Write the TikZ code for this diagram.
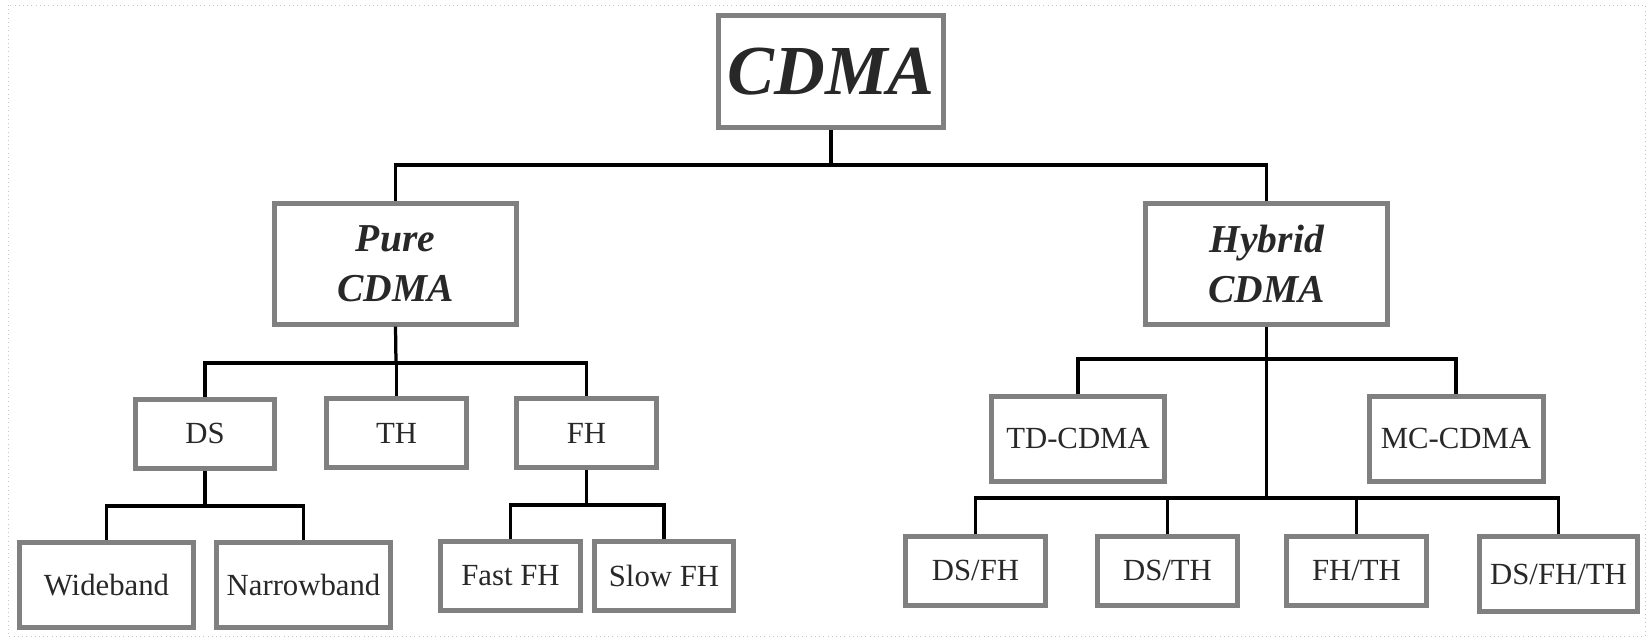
\documentclass[tikz,border=0pt]{standalone}
\usepackage{tikz}
\usepackage{fontspec}
\setmainfont{Liberation Serif}
\usetikzlibrary{positioning,calc}
\definecolor{boxgray}{RGB}{128,128,128}
\definecolor{txtgray}{RGB}{40,40,40}

\begin{document}
\begin{tikzpicture}[
    x=0.02cm, y=-0.02cm,
    box/.style={rectangle, draw=boxgray, line width=0.1cm, fill=white, inner sep=0pt, align=center, text=txtgray},
    rootbox/.style={box, minimum width=4.5cm, minimum height=2.24cm, font=\fontsize{40}{48}\selectfont\bfseries\itshape},
    groupbox/.style={box, minimum width=4.85cm, minimum height=2.42cm, font=\fontsize{22.5}{28.5}\selectfont\bfseries\itshape},
    techbox/.style={box, minimum width=2.8cm, minimum height=1.38cm, font=\fontsize{17.5}{21}\selectfont},
    widebox/.style={techbox, minimum width=3.48cm, minimum height=1.7cm},
    link/.style={line width=0.065cm}
]

\useasboundingbox (0,0) rectangle (1646,637);
\draw[dotted, gray!45] (8,5) rectangle (1645,636);

% Root
\node[rootbox] (root) at (831,71.5) {CDMA};

% Pure / Hybrid
\node[groupbox] (pure) at (395.5,263.7) {Pure\\CDMA};
\node[groupbox] (hybrid) at (1266.7,263.7) {Hybrid\\CDMA};

% Pure branch
\node[techbox] (ds) at (205,433.5) {DS};
\node[techbox] (th) at (396.5,433) {TH};
\node[techbox] (fh) at (586.5,433) {FH};

\node[widebox] (wideband) at (106.5,585) {Wideband};
\node[widebox] (narrowband) at (303.5,585) {Narrowband};
\node[techbox] (fastfh) at (510.5,576) {Fast FH};
\node[techbox] (slowfh) at (664,576) {Slow FH};

% Hybrid branch
\node[widebox] (tdcdma) at (1078,438.5) {TD-CDMA};
\node[widebox] (mccdma) at (1456,438.5) {MC-CDMA};

\node[techbox] (dsfh) at (975.5,570.5) {DS/FH};
\node[techbox] (dsth) at (1167.5,570.5) {DS/TH};
\node[techbox] (fhth) at (1356.5,570.5) {FH/TH};
\node[techbox, minimum width=3.16cm, minimum height=1.5cm] (dsfhth) at (1558.5,574) {DS/FH/TH};

% Bus points
\coordinate (rootbus) at (831,165);
\coordinate (purebus) at (396,363);
\coordinate (dsbus) at (205,506);
\coordinate (fhbus) at (586.5,505);
\coordinate (hybus) at (1266.7,359);
\coordinate (mixbus) at (1266.7,498);

% Connectors
\draw[link] (root.south) -- (rootbus);
\draw[link] (pure.north) |- (rootbus) -| (hybrid.north);

\draw[link] (pure.south) -- (purebus);
\draw[link] (ds.north) |- (purebus) -| (fh.north);
\draw[link] (th.north) -- (th.north |- purebus);

\draw[link] (ds.south) -- (dsbus);
\draw[link] (wideband.north) |- (dsbus) -| (narrowband.north);
\draw[link] (fh.south) -- (fhbus);
\draw[link] (fastfh.north) |- (fhbus) -| (slowfh.north);

\draw[link] (hybrid.south) -- (mixbus);
\draw[link] (tdcdma.north) |- (hybus) -| (mccdma.north);
\draw[link] (dsfh.north) |- (mixbus) -| (dsfhth.north);
\draw[link] (dsth.north) -- (dsth.north |- mixbus);
\draw[link] (fhth.north) -- (fhth.north |- mixbus);

\end{tikzpicture}
\end{document}
